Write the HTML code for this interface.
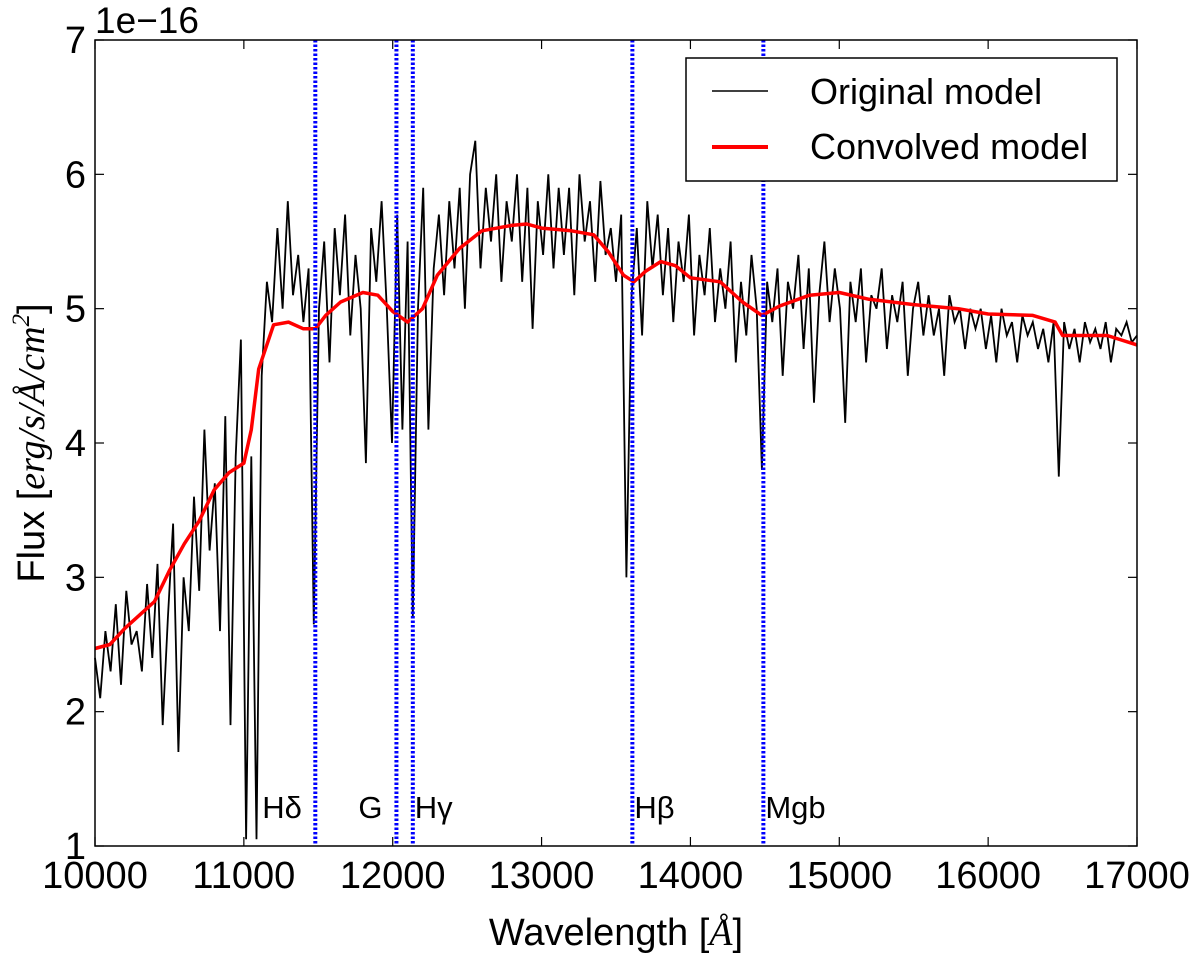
<!DOCTYPE html>
<html><head><meta charset="utf-8"><style>
body{margin:0;background:#fff;}
svg text{font-family:"Liberation Sans","DejaVu Sans",sans-serif;}
</style></head><body>
<svg id="chart" width="1200" height="956" xmlns="http://www.w3.org/2000/svg">
<rect width="1200" height="956" fill="#fff"/>
<g id="plot"></g>
</svg>
<script>
const startWave = 10000, stepWave = 35;
const originalFlux = [
2.4,2.1,2.6,2.3,2.8,2.2,2.9,2.5,2.6,2.3,
2.95,2.4,3.1,1.9,2.7,3.4,1.7,3.0,2.6,3.6,
2.9,4.1,3.2,3.7,2.6,4.2,1.9,3.9,4.77,1.05,
3.9,1.05,4.5,5.2,4.9,5.6,5.0,5.8,5.1,5.4,
4.9,5.3,2.65,5.0,5.5,4.6,5.6,5.1,5.7,4.8,
5.4,5.0,3.85,5.6,5.2,5.8,5.0,4.0,5.7,4.1,
5.5,2.7,5.0,5.9,4.1,5.3,5.7,5.1,5.8,5.3,
5.9,5.0,6.0,6.25,5.3,5.9,5.5,6.0,5.2,5.8,
5.5,6.0,5.2,5.9,4.85,5.8,5.4,6.0,5.3,5.9,
5.4,5.9,5.1,6.0,5.5,5.8,5.2,5.95,5.4,5.6,
5.2,5.7,3.0,5.1,5.6,4.8,5.8,5.3,5.7,5.1,
5.6,4.9,5.5,5.2,5.7,4.8,5.4,5.1,5.6,4.9,
5.3,5.0,5.5,4.6,5.2,4.8,5.4,5.0,3.8,5.2,
4.9,5.3,4.5,5.2,5.0,5.4,4.7,5.3,4.3,5.1,
5.5,4.9,5.3,5.0,4.15,5.2,4.9,5.3,4.6,5.1,
5.0,5.3,4.7,5.1,4.9,5.2,4.5,5.0,5.2,4.8,
5.1,4.8,5.0,4.5,5.1,4.9,5.0,4.7,5.0,4.85,
5.0,4.7,4.95,4.6,5.0,4.8,4.9,4.6,4.95,4.8,
4.9,4.7,4.85,4.6,4.9,3.75,4.9,4.7,4.85,4.6,
4.9,4.75,4.85,4.7,4.9,4.6,4.85,4.8,4.9,4.75,
4.8];
const convWave = [10000,10100,10200,10300,10400,10500,10600,10700,10800,10900,11000,11050,11100,11200,11300,11400,11480,11550,11650,11800,11900,12000,12100,12200,12300,12450,12600,12800,12900,13000,13200,13350,13450,13550,13620,13700,13800,13900,14000,14200,14350,14480,14600,14800,15000,15200,15500,15800,16000,16300,16450,16500,16800,17000];
const convFlux = [2.47,2.5,2.62,2.72,2.82,3.05,3.25,3.42,3.65,3.78,3.85,4.1,4.55,4.88,4.9,4.85,4.85,4.95,5.05,5.12,5.1,4.98,4.9,5.0,5.25,5.45,5.58,5.62,5.63,5.6,5.58,5.55,5.42,5.25,5.2,5.28,5.35,5.32,5.23,5.2,5.05,4.95,5.02,5.1,5.12,5.07,5.03,5.0,4.96,4.95,4.9,4.8,4.8,4.73];
const lineNames = ["H\u03b4","G","H\u03b3","H\u03b2","Mgb"];
const lineWaves = [11480,12025,12135,13610,14490];
const xTicks = [10000,11000,12000,13000,14000,15000,16000,17000];
const yTicks = [1,2,3,4,5,6,7];

const L=95,R=1137,T=40,B=846;
const xs=w=>L+(w-10000)/7000*(R-L);
const ys=v=>B-(v-1)/6*(B-T);
const NS="http://www.w3.org/2000/svg";
const g=document.getElementById('plot');
function mk(tag,attrs,parent){const e=document.createElementNS(NS,tag);for(const k in attrs)e.setAttribute(k,attrs[k]);(parent||g).appendChild(e);return e;}

let d=originalFlux.map((v,i)=>(i?'L':'M')+xs(startWave+i*stepWave).toFixed(1)+','+ys(v).toFixed(1)).join('');
let e=mk('path',{d:d,fill:'none',stroke:'#000','stroke-width':1.8});


d=convFlux.map((v,i)=>(i?'L':'M')+xs(convWave[i]).toFixed(1)+','+ys(v).toFixed(1)).join('');
e=mk('path',{d:d,fill:'none',stroke:'#f00','stroke-width':3.5,'stroke-linejoin':'round'});


lineWaves.forEach((w,i)=>{
  const l=mk('line',{x1:xs(w),x2:xs(w),y1:T,y2:B,stroke:'#00f','stroke-width':4,'stroke-dasharray':'2.5,2'});
  
  
  const t=mk('text',{x:xs(w)+(i===1?-38:(i===0?-53:2)),y:818,'font-size':31});
  t.textContent=lineNames[i];
  
  
});
e=mk('rect',{x:L,y:T,width:R-L,height:B-T,fill:'none',stroke:'#000','stroke-width':1.5});


xTicks.forEach(v=>{
  const x=xs(v);
  mk('line',{x1:x,x2:x,y1:B,y2:B-9,stroke:'#000','stroke-width':1.2});
  mk('line',{x1:x,x2:x,y1:T,y2:T+9,stroke:'#000','stroke-width':1.2});
  const t=mk('text',{x:x,y:888,'font-size':38,'text-anchor':'middle'});
  t.textContent=v;
  
  
});
yTicks.forEach(v=>{
  const y=ys(v);
  mk('line',{x1:L,x2:L+9,y1:y,y2:y,stroke:'#000','stroke-width':1.2});
  mk('line',{x1:R,x2:R-9,y1:y,y2:y,stroke:'#000','stroke-width':1.2});
  const t=mk('text',{x:86,y:y+13,'font-size':38,'text-anchor':'end'});
  t.textContent=v;
  
  
});
</script>
<svg style="position:absolute;left:0;top:0" width="1200" height="956" xmlns="http://www.w3.org/2000/svg">
<text x="95" y="33" font-size="37" font-family="Liberation Sans,sans-serif">1e−16</text>
<text x="616" y="945" font-size="38" text-anchor="middle" font-family="Liberation Sans,sans-serif">Wavelength [<tspan font-family="Liberation Serif,serif" font-style="italic">Å</tspan>]</text>
<text transform="translate(44,443) rotate(-90)" font-size="38" text-anchor="middle" font-family="Liberation Sans,sans-serif">Flux [<tspan font-family="Liberation Serif,serif" font-style="italic">erg/s/Å/cm</tspan><tspan font-family="Liberation Serif,serif" font-style="italic" font-size="25" dy="-15">2</tspan><tspan dy="15">]</tspan></text>
<g>
<rect x="686" y="58" width="431" height="123" fill="#fff" stroke="#000" stroke-width="1.5"/>
<line x1="712" y1="91" x2="768" y2="91" stroke="#000" stroke-width="1.5"/>
<text x="810" y="104" font-size="36" font-family="Liberation Sans,sans-serif">Original model</text>
<line x1="712" y1="147" x2="768" y2="147" stroke="#f00" stroke-width="4"/>
<text x="810" y="159" font-size="36" font-family="Liberation Sans,sans-serif">Convolved model</text>
</g>
</svg>
</body></html>
